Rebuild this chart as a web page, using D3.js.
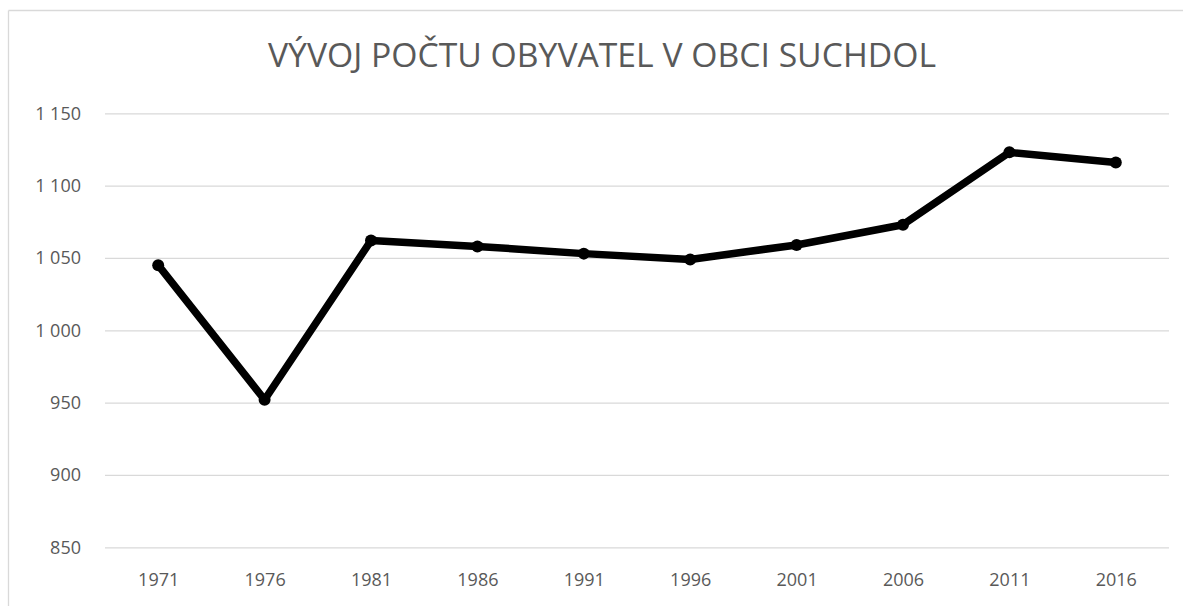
<!DOCTYPE html>
<html>
<head>
<meta charset="utf-8">
<script src="https://cdn.jsdelivr.net/npm/d3@7"></script>
<style>
  html, body { margin: 0; padding: 0; background: #fff; }
  svg { display: block; }
  .Title { font-family: "Open Sans", sans-serif; fill: #595959; }
  .Axis text { font-family: "Open Sans", sans-serif; fill: #595959; font-size: 18px; }
  .Grid line { stroke: #d9d9d9; stroke-width: 1.3; }
  .Frame { stroke: #d9d9d9; stroke-width: 1.3; }
</style>
</head>
<body>
<svg id="chart" width="1183" height="606"></svg>
<script>
const years = ["1971", "1976", "1981", "1986", "1991", "1996", "2001", "2006", "2011", "2016"];
const population = [1045, 952, 1062, 1058, 1053, 1049, 1059, 1073, 1123, 1116];
const yTicks = [850, 900, 950, 1000, 1050, 1100, 1150];
const title = "VÝVOJ POČTU OBYVATEL V OBCI SUCHDOL";

const width = 1183;
const height = 606;
const margin = {top: 113.3, right: 14, bottom: 58.7, left: 105};
const innerWidth = width - margin.left - margin.right;
const innerHeight = height - margin.top - margin.bottom;

const svg = d3.select("#chart");

// Chart area frame: only its top and left edges are in view.
svg.append("line").attr("class", "Frame")
  .attr("x1", 8.5).attr("y1", 10.5).attr("x2", width).attr("y2", 10.5);
svg.append("line").attr("class", "Frame")
  .attr("x1", 8.5).attr("y1", 10.5).attr("x2", 8.5).attr("y2", height);

svg.append("text")
  .attr("class", "Title")
  .attr("x", 602)
  .attr("y", 67)
  .attr("text-anchor", "middle")
  .attr("font-size", 33)
  .attr("textLength", 668)
  .attr("lengthAdjust", "spacingAndGlyphs")
  .text(title);

const xScale = d3.scalePoint()
  .domain(years)
  .range([0, innerWidth])
  .padding(0.5);
const yScale = d3.scaleLinear()
  .domain([850, 1150])
  .range([innerHeight, 0]);

const locale = d3.formatLocale({decimal: ",", thousands: " ", grouping: [3], currency: ["", ""]});
const fmt = locale.format(",d");

const g = svg.append("g")
  .attr("transform", `translate(${margin.left}, ${margin.top})`);

// Gridlines + y labels.
const yAxis = d3.axisLeft(yScale)
  .tickValues(yTicks)
  .tickFormat(fmt)
  .tickSizeInner(-innerWidth)
  .tickSizeOuter(0)
  .tickPadding(24);
const gY = g.append("g")
  .attr("class", "Axis Grid")
  .call(yAxis);
gY.select(".domain").remove();

// x labels.
const xAxis = d3.axisBottom(xScale)
  .tickSize(0)
  .tickPadding(26);
const gX = g.append("g")
  .attr("class", "Axis")
  .attr("transform", `translate(0, ${innerHeight})`)
  .call(xAxis);
gX.select(".domain").remove();

// Line + markers.
const data = years.map((y, i) => ({year: y, value: population[i]}));
const line = d3.line()
  .x((d) => xScale(d.year))
  .y((d) => yScale(d.value));
g.append("path")
  .attr("d", line(data))
  .attr("fill", "none")
  .attr("stroke", "#000")
  .attr("stroke-width", 7.5)
  .attr("stroke-linejoin", "round");
g.selectAll("circle")
  .data(data)
  .join("circle")
  .attr("cx", (d) => xScale(d.year))
  .attr("cy", (d) => yScale(d.value))
  .attr("r", 6)
  .attr("fill", "#000");
</script>
</body>
</html>
